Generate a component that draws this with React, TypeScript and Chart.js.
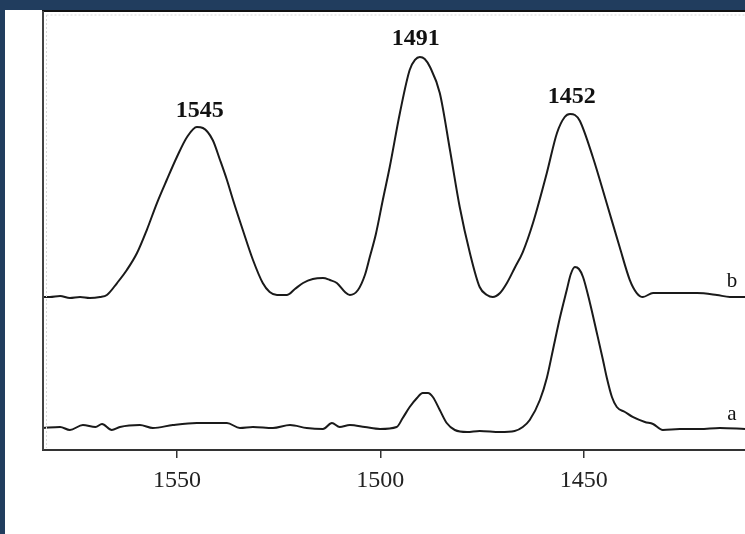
import { useEffect, useRef } from 'react';
import { Chart, registerables } from 'chart.js';

Chart.register(...registerables);

// Trace b (upper spectrum)
const wavenumbersB = [1582.9, 1581.2, 1578.7, 1576.3, 1573.8, 1571.4, 1568.9, 1567.2, 1564.7, 1562.3, 1559.8, 1557.4, 1554.9, 1552.5, 1550.0, 1547.5, 1545.1, 1543.6, 1541.2, 1539.4, 1537.7, 1536.2, 1533.8, 1531.3, 1528.9, 1527.2, 1525.4, 1523.0, 1521.0, 1519.0, 1516.6, 1514.1, 1512.4, 1510.7, 1508.7, 1507.5, 1505.5, 1503.8, 1502.6, 1501.1, 1499.4, 1497.7, 1495.2, 1492.8, 1491.5, 1490.3, 1489.1, 1487.8, 1485.4, 1482.9, 1480.5, 1478.0, 1475.6, 1473.8, 1472.4, 1470.6, 1468.9, 1467.0, 1465.0, 1462.5, 1459.1, 1456.6, 1454.7, 1453.4, 1452.2, 1451.0, 1447.8, 1444.4, 1441.2, 1438.7, 1437.0, 1435.5, 1433.0, 1428.1, 1422.2, 1417.3, 1414.1, 1410.4];
const intensityB = [34.85, 34.85, 35.08, 34.62, 34.85, 34.62, 34.85, 35.31, 38.04, 41.0, 44.87, 50.11, 56.26, 61.5, 66.74, 71.3, 73.58, 73.35, 70.62, 66.06, 61.5, 56.95, 50.11, 43.28, 38.04, 35.99, 35.31, 35.31, 36.67, 38.04, 38.95, 39.18, 38.72, 38.04, 35.99, 35.31, 36.45, 39.86, 43.96, 49.2, 56.95, 64.46, 76.77, 86.56, 88.84, 89.52, 89.07, 87.24, 81.32, 68.34, 55.35, 44.87, 37.13, 35.31, 34.85, 35.76, 38.04, 41.46, 45.1, 51.71, 63.1, 72.21, 75.85, 76.54, 76.31, 75.0, 66.74, 56.26, 46.24, 38.72, 35.76, 34.85, 35.76, 35.76, 35.76, 35.31, 34.85, 34.85];

// Trace a (lower spectrum)
const wavenumbersA = [1582.9, 1578.7, 1576.3, 1573.1, 1570.0, 1568.4, 1566.0, 1564.0, 1559.1, 1555.9, 1551.0, 1545.1, 1541.2, 1537.7, 1534.5, 1531.3, 1526.4, 1522.2, 1518.1, 1514.1, 1511.9, 1510.0, 1507.5, 1503.8, 1500.1, 1496.0, 1494.5, 1492.8, 1491.0, 1489.6, 1488.3, 1487.1, 1485.4, 1483.7, 1481.7, 1478.7, 1475.6, 1470.6, 1467.0, 1465.0, 1463.3, 1460.8, 1459.1, 1457.6, 1455.9, 1454.2, 1453.2, 1452.2, 1451.2, 1450.2, 1448.5, 1446.8, 1445.3, 1444.4, 1443.1, 1441.9, 1439.9, 1438.0, 1435.0, 1433.0, 1430.6, 1426.4, 1421.5, 1416.6, 1410.4];
const intensityA = [5.01, 5.24, 4.56, 5.69, 5.24, 5.92, 4.56, 5.24, 5.69, 5.01, 5.69, 6.15, 6.15, 6.15, 5.01, 5.24, 5.01, 5.69, 5.01, 4.79, 6.15, 5.24, 5.69, 5.24, 4.79, 5.24, 7.29, 9.79, 11.85, 12.98, 12.98, 12.07, 9.11, 6.15, 4.56, 4.1, 4.33, 4.1, 4.33, 5.24, 6.83, 11.39, 16.4, 22.78, 30.07, 36.45, 40.09, 41.69, 41.23, 39.41, 33.49, 26.65, 20.5, 16.63, 12.07, 9.79, 8.66, 7.52, 6.38, 5.92, 4.56, 4.78, 4.78, 5.01, 4.78];

const tickValues = [1550, 1500, 1450];

// Peak annotations
const peakLabels = ['1545', '1491', '1452'];
const peakLabelX = [1544.4, 1491.3, 1453.0];
const peakLabelY = [77.2, 93.6, 80.4];

// Trace names
const traceLabels = ['b', 'a'];
const traceLabelX = [1413.6, 1413.6];
const traceLabelY = [38.5, 8.0];

const SERIF = '"Liberation Serif", "DejaVu Serif", serif';

const decorPlugin = {
  id: 'decor',
  afterDatasetsDraw(chart: any) {
    const { ctx, chartArea, scales } = chart;
    const xs = scales.x;
    const ys = scales.y;
    ctx.save();
    // faint dotted inner lines
    ctx.strokeStyle = '#d8d8d8';
    ctx.lineWidth = 1;
    ctx.setLineDash([2, 2]);
    ctx.beginPath();
    ctx.moveTo(chartArea.left + 3.5, chartArea.top + 4);
    ctx.lineTo(chartArea.right, chartArea.top + 4);
    ctx.moveTo(chartArea.left + 3.5, chartArea.top + 4);
    ctx.lineTo(chartArea.left + 3.5, chartArea.bottom - 2);
    ctx.stroke();
    ctx.setLineDash([]);
    // top frame line
    ctx.strokeStyle = '#111';
    ctx.lineWidth = 2;
    ctx.beginPath();
    ctx.moveTo(chartArea.left - 1, chartArea.top);
    ctx.lineTo(chartArea.right, chartArea.top);
    ctx.stroke();
    // left frame line
    ctx.strokeStyle = '#444';
    ctx.beginPath();
    ctx.moveTo(chartArea.left, chartArea.top);
    ctx.lineTo(chartArea.left, chartArea.bottom);
    ctx.stroke();
    // peak labels
    ctx.fillStyle = '#111';
    ctx.textAlign = 'center';
    ctx.textBaseline = 'middle';
    ctx.font = `bold 24px ${SERIF}`;
    peakLabels.forEach((t, i) => {
      ctx.fillText(t, xs.getPixelForValue(peakLabelX[i]), ys.getPixelForValue(peakLabelY[i]));
    });
    ctx.font = `21px ${SERIF}`;
    traceLabels.forEach((t, i) => {
      ctx.fillText(t, xs.getPixelForValue(traceLabelX[i]), ys.getPixelForValue(traceLabelY[i]));
    });
    ctx.restore();
  },
};

export default function App() {
  const ref = useRef<HTMLCanvasElement>(null);
  useEffect(() => {
    document.body.style.margin = '0';
    const toPts = (xs: number[], ys: number[]) => xs.map((x, i) => ({ x, y: ys[i] }));
    const chart = new Chart(ref.current!, {
      type: 'line',
      data: {
        datasets: [
          {
            label: 'b',
            data: toPts(wavenumbersB, intensityB),
            borderColor: '#1a1a1a',
            borderWidth: 2,
            pointRadius: 0,
            cubicInterpolationMode: 'monotone',
            fill: false,
          },
          {
            label: 'a',
            data: toPts(wavenumbersA, intensityA),
            borderColor: '#1a1a1a',
            borderWidth: 2,
            pointRadius: 0,
            cubicInterpolationMode: 'monotone',
            fill: false,
          },
        ],
      },
      options: {
        animation: false,
        responsive: false,
        maintainAspectRatio: false,
        layout: { padding: { left: 43, top: 11, right: 0, bottom: 0 } },
        plugins: { legend: { display: false }, tooltip: { enabled: false } },
        scales: {
          x: {
            type: 'linear',
            reverse: true,
            min: 1410.4,
            max: 1582.9,
            afterBuildTicks: (axis: any) => {
              axis.ticks = tickValues.map((v) => ({ value: v }));
            },
            afterFit: (s: any) => {
              s.height = 84;
            },
            ticks: {
              font: { family: SERIF, size: 24 },
              color: '#222',
              padding: 8,
              maxRotation: 0,
              autoSkip: false,
              callback: (v: any) => String(v),
            },
            grid: {
              display: true,
              drawOnChartArea: false,
              drawTicks: true,
              tickLength: 8,
              color: '#333',
              lineWidth: 1.5,
            },
            border: { display: true, color: '#333', width: 2 },
          },
          y: {
            display: false,
            min: 0,
            max: 100,
          },
        },
      },
      plugins: [decorPlugin],
    });
    return () => chart.destroy();
  }, []);
  return (
    <div style={{ position: 'relative', width: 745, height: 534, background: '#213d5e', overflow: 'hidden' }}>
      <div style={{ position: 'absolute', left: 5, top: 10, right: 0, bottom: 0, background: '#fff' }} />
      <canvas
        ref={ref}
        width={745}
        height={534}
        style={{ position: 'absolute', left: 0, top: 0, width: 745, height: 534 }}
      />
    </div>
  );
}
